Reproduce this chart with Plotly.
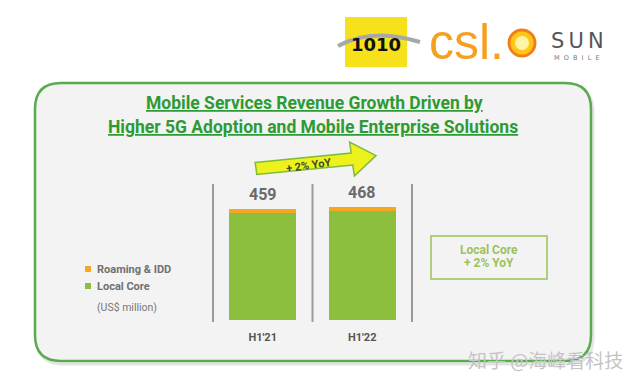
import plotly.graph_objects as go

W, H = 641, 383

periods = ["H1'21", "H1'22"]
local_core = [443, 452]
roaming_idd = [16, 16]
totals = [459, 468]
total_labels = ["459", "468"]
series_names = ["Local Core", "Roaming & IDD"]

title_lines = ["Mobile Services Revenue Growth Driven by",
               "Higher 5G Adoption and Mobile Enterprise Solutions"]
growth_text = "+ 2% YoY"
box_lines = ["Local Core", "+ 2% YoY"]
unit_text = "(US$ million)"
watermark = "知乎 @海峰看科技"

GREEN = "#8dbf3f"
ORANGE = "#f5a623"
FONT = "Roboto"


def px(x):
    return x / W


def py(y):
    return 1 - y / H


fig = go.Figure()
fig.add_trace(go.Bar(x=periods, y=local_core, name=series_names[0],
                     marker=dict(color=GREEN, line=dict(width=0))))
fig.add_trace(go.Bar(x=periods, y=roaming_idd, name=series_names[1],
                     marker=dict(color=ORANGE, line=dict(width=0))))

shapes = []


def rounded(x0, y0, x1, y1, r):
    pts = [f"M {px(x0 + r)},{py(y0)}",
           f"L {px(x1 - r)},{py(y0)}",
           f"Q {px(x1)},{py(y0)} {px(x1)},{py(y0 + r)}",
           f"L {px(x1)},{py(y1 - r)}",
           f"Q {px(x1)},{py(y1)} {px(x1 - r)},{py(y1)}",
           f"L {px(x0 + r)},{py(y1)}",
           f"Q {px(x0)},{py(y1)} {px(x0)},{py(y1 - r)}",
           f"L {px(x0)},{py(y0 + r)}",
           f"Q {px(x0)},{py(y0)} {px(x0 + r)},{py(y0)} Z"]
    return " ".join(pts)


x0, y0, x1, y1, r = 35, 83, 591, 361, 26
shapes.append(dict(type="path", xref="paper", yref="paper", layer="below",
                   path=rounded(x0 + 2, y0 + 3, x1 + 2, y1 + 3, r),
                   fillcolor="rgba(0,0,0,0)", line=dict(color="#e4e4e4", width=3)))
shapes.append(dict(type="path", xref="paper", yref="paper", layer="below",
                   path=rounded(x0, y0, x1, y1, r),
                   fillcolor="#f3f3f3", line=dict(color="#5aab4f", width=2.5)))

# separators
for xv in [-0.5, 0.5, 1.5]:
    shapes.append(dict(type="line", xref="x", yref="paper", x0=xv, x1=xv,
                       y0=py(322), y1=py(184), line=dict(color="#9a9a9a", width=2)))

# growth arrow
arrow_pts = [(255.2, 162.5), (351.2, 153), (349.6, 142), (376, 155.6),
             (354.4, 176), (352.8, 165), (256.8, 174.5)]
arrow_path = "M " + " L ".join(f"{px(a)},{py(b)}" for a, b in arrow_pts) + " Z"
shapes.append(dict(type="path", xref="paper", yref="paper", path=arrow_path,
                   fillcolor="#eef21c", line=dict(color="#7dbb3a", width=1.5)))

# right info box
shapes.append(dict(type="rect", xref="paper", yref="paper",
                   x0=px(431), x1=px(547), y0=py(236), y1=py(279),
                   line=dict(color="#aed07c", width=2), fillcolor="rgba(0,0,0,0)"))

# legend squares
shapes.append(dict(type="rect", xref="paper", yref="paper",
                   x0=px(85), x1=px(91), y0=py(266), y1=py(272),
                   fillcolor=ORANGE, line=dict(width=0)))
shapes.append(dict(type="rect", xref="paper", yref="paper",
                   x0=px(85), x1=px(91), y0=py(283), y1=py(289),
                   fillcolor=GREEN, line=dict(width=0)))

# logos
shapes.append(dict(type="rect", xref="paper", yref="paper",
                   x0=px(345), x1=px(407), y0=py(17), y1=py(67),
                   fillcolor="#f7e11a", line=dict(width=0)))
shapes.append(dict(type="path", xref="paper", yref="paper",
                   path=f"M {px(338)},{py(46)} Q {px(372)},{py(27)} {px(420)},{py(42)}",
                   line=dict(color="#a8a8a8", width=4)))
shapes.append(dict(type="circle", xref="paper", yref="paper",
                   x0=px(509), x1=px(535), y0=py(30), y1=py(56),
                   fillcolor="#ffc61a", line=dict(color="#f07f1a", width=3)))
shapes.append(dict(type="circle", xref="paper", yref="paper",
                   x0=px(515), x1=px(529), y0=py(36), y1=py(50),
                   fillcolor="#fff3a6", line=dict(width=0)))

ann = []


def note(x, y, text, size, color, family=FONT, xanchor="center", angle=0):
    ann.append(dict(x=px(x), y=py(y), xref="paper", yref="paper", showarrow=False,
                    xanchor=xanchor, yanchor="middle", text=text, textangle=angle,
                    font=dict(family=family, size=size, color=color)))


note(314, 103, f"<b><u>{title_lines[0]}</u></b>", 17.5, "#2e9a34")
note(313, 127, f"<b><u>{title_lines[1]}</u></b>", 17.5, "#2e9a34")
for p, t, lab in zip(periods, totals, total_labels):
    ann.append(dict(x=p, y=t, xref="x", yref="y", showarrow=False, yanchor="bottom",
                    xanchor="center", yshift=3, text=f"<b>{lab}</b>",
                    font=dict(family=FONT, size=16, color="#6a6a6a")))
note(309, 166, f"<b>{growth_text}</b>", 11, "#3d4a2a", angle=-8)
note(489, 250, f"<b>{box_lines[0]}</b>", 12, "#9cc25a")
note(489, 263, f"<b>{box_lines[1]}</b>", 12, "#9cc25a")
note(95, 269, f"<b>{series_names[1]}</b>", 11, "#707070", xanchor="left")
note(95, 286, f"<b>{series_names[0]}</b>", 11, "#707070", xanchor="left")
note(95, 307, unit_text, 10.5, "#777777", xanchor="left")
# logo texts
note(376, 44, "<b>1010</b>", 18, "#111", family="DejaVu Sans")
note(466, 42, "csl.", 50, "#f5a020", family="Liberation Sans")
note(577, 41, "S\u2009U\u2009N", 21, "#555", family="DejaVu Sans")
note(577, 58, "M  O  B  I  L  E", 6.5, "#777", family="DejaVu Sans")
# watermark
note(545, 359, watermark, 19, "#c4c4c4", family="Noto Sans CJK SC")

fig.update_layout(
    width=W, height=H, margin=dict(l=0, r=0, t=0, b=0),
    paper_bgcolor="white", plot_bgcolor="rgba(0,0,0,0)",
    barmode="stack", bargap=0.33,
    showlegend=False,
    xaxis=dict(domain=[px(212), px(413)], showgrid=False, zeroline=False,
               showline=False, ticks="", ticklabelstandoff=9,
               tickfont=dict(family=FONT, size=11, color="#555"),
               tickprefix="<b>", ticksuffix="</b>"),
    yaxis=dict(domain=[py(320), py(184)], range=[0, 563], visible=False),
    shapes=shapes, annotations=ann,
    font=dict(family=FONT),
)

fig.write_html("out.html", config={"displayModeBar": False},
               post_script="document.body.style.margin='0px';")
